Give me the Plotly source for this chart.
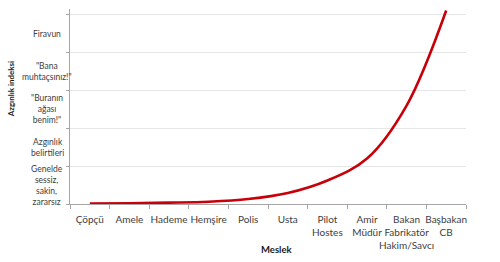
import plotly.graph_objects as go

categories = ["Çöpçü", "Amele", "Hademe", "Hemşire", "Polis", "Usta",
              "Pilot<br>Hostes", "Amir<br>Müdür", "Bakan<br>Fabrikatör<br>Hakim/Savcı",
              "Başbakan<br>CB"]
values = [0.01, 0.02, 0.035, 0.06, 0.13, 0.29, 0.62, 1.2, 2.6, 5.11]

level_positions = [0.5, 1.5, 2.5, 3.5, 4.5]
level_labels = ["Genelde<br>sessiz,<br>sakin,<br>zararsız",
                "Azgınlık<br>belirtileri",
                "\"Buranın<br>ağası<br>benim!\"",
                "\"Bana<br>muhtaçsınız!\"",
                "Firavun"]
grid_values = [0, 1, 2, 3, 4, 5]

font_family = "Lato, Open Sans, sans-serif"
text_color = "#404040"

fig = go.Figure()
fig.add_trace(go.Scatter(
    x=categories, y=values, mode="lines",
    line=dict(color="#c8000a", width=2.6, shape="spline", smoothing=1.0),
    hoverinfo="skip", showlegend=False,
))

for pos, lab in zip(level_positions, level_labels):
    fig.add_annotation(
        x=-0.058, xref="paper", y=pos, yref="y", text=lab, showarrow=False,
        xanchor="center", yanchor="middle", align="center",
        font=dict(family=font_family, size=8.5, color=text_color),
    )

fig.add_annotation(
    x=0.523, xref="paper", y=-0.235, yref="paper", yanchor="middle",
    text="<b>Meslek</b>", showarrow=False,
    font=dict(family=font_family, size=9.5, color="#1a1a1a"),
)
fig.add_annotation(
    x=-0.148, xref="paper", y=0.59, yref="paper", xanchor="center", yanchor="middle",
    text="<b>Azgınlık indeksi</b>", showarrow=False, textangle=-90,
    font=dict(family=font_family, size=8, color="#1a1a1a"),
)

fig.update_layout(
    width=500, height=262,
    margin=dict(l=70, r=34, t=9, b=58, autoexpand=False),
    paper_bgcolor="white", plot_bgcolor="white",
    font=dict(family=font_family, size=9, color=text_color),
    xaxis=dict(
        type="category", tickson="boundaries", showgrid=False,
        showline=True, linecolor="#a6a6a6", linewidth=1,
        ticks="outside", ticklen=4, tickcolor="#a6a6a6", tickangle=0,
        ticklabelstandoff=6,
        tickfont=dict(family=font_family, size=10, color=text_color),
        range=[-0.5, len(categories) - 0.5], zeroline=False, automargin=False,
    ),
    yaxis=dict(
        range=[0, 5.15], tickvals=grid_values, ticktext=[""] * len(grid_values),
        showgrid=True, gridcolor="#e6e6e6", gridwidth=1,
        showline=True, linecolor="#a6a6a6", linewidth=1,
        ticks="outside", ticklen=3, tickcolor="#a6a6a6",
        zeroline=False, automargin=False,
    ),
)

fig.write_html("out.html")
